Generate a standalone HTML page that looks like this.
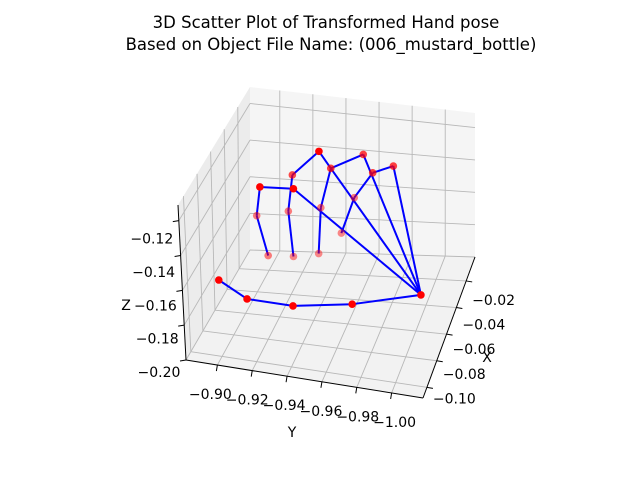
<!DOCTYPE html>
<html><head><meta charset="utf-8"><style>
html,body{margin:0;padding:0;background:#fff;}
svg{display:block;font-family:"DejaVu Sans","Liberation Sans",sans-serif;}
</style></head><body>
<svg id="chart" width="640" height="480" viewBox="0 0 640 480" xmlns="http://www.w3.org/2000/svg">
<text x="326" y="28" text-anchor="middle" font-size="16.5">3D Scatter Plot of Transformed Hand pose</text>
<text x="331" y="50" text-anchor="middle" font-size="16.5">Based on Object File Name: (006_mustard_bottle)</text>
<g id="panes"></g><g id="grid"></g><g id="axes"></g><g id="lines"></g><g id="points"></g>
<text x="487" y="362" text-anchor="middle" font-size="14">X</text>
<text x="292" y="437" text-anchor="middle" font-size="14">Y</text>
<text x="126" y="310" text-anchor="middle" font-size="14">Z</text>
</svg>
<script>
// data (X, Y, Z) per joint
const jointX = [-0.066,-0.085,-0.100,-0.106,-0.100,-0.042,-0.044,-0.055,-0.068,-0.022,-0.022,-0.038,-0.048,-0.066,-0.015,-0.042,-0.061,-0.015,-0.022,-0.031,-0.048];
const jointY = [-1.005,-0.971,-0.942,-0.918,-0.900,-0.923,-0.904,-0.906,-0.917,-0.938,-0.931,-0.921,-0.922,-0.931,-0.955,-0.939,-0.944,-0.973,-0.963,-0.955,-0.953];
const jointZ = [-0.173,-0.169,-0.164,-0.160,-0.156,-0.138,-0.138,-0.147,-0.160,-0.138,-0.129,-0.133,-0.147,-0.160,-0.133,-0.147,-0.160,-0.138,-0.138,-0.147,-0.156];
const jointShade = [1,1,1,1,1,1,1,0.5,0.5,0.75,1,0.7,0.5,0.45,0.75,0.5,0.45,0.75,0.75,0.5,0.45];
const bones = [[0,1],[1,2],[2,3],[3,4],[0,5],[5,6],[6,7],[7,8],[0,9],[9,10],[10,11],[11,12],[12,13],[9,14],[14,0],[9,15],[15,16],[0,17],[17,18],[18,19],[19,20]];
const xTicks = [-0.02,-0.04,-0.06,-0.08,-0.10];
const xTickLabels = ["−0.02","−0.04","−0.06","−0.08","−0.10"];
const yTicks = [-0.90,-0.92,-0.94,-0.96,-0.98,-1.00];
const yTickLabels = ["−0.90","−0.92","−0.94","−0.96","−0.98","−1.00"];
const zTicks = [-0.12,-0.14,-0.16,-0.18,-0.20];
const zTickLabels = ["−0.12","−0.14","−0.16","−0.18","−0.20"];

const X0=-0.108,X1=-0.002,Y0=-0.882,Y1=-1.018,Z0=-0.200,Z1=-0.111;
const C={
 b:{FL:[186,360],FR:[423,398],BL:[250,250],BR:[475,257]},
 t:{FL:[178,205],FR:[421,250],BL:[250,87],BR:[475,113]}
};
function bil(s,u,v){
  return [0,1].map(i=>s.FL[i]*(1-u)*(1-v)+s.FR[i]*u*(1-v)+s.BL[i]*(1-u)*v+s.BR[i]*u*v);
}
function proj(x,y,z){
  const u=(y-Y0)/(Y1-Y0), v=(x-X0)/(X1-X0), w=(z-Z0)/(Z1-Z0);
  const b=bil(C.b,u,v), t=bil(C.t,u,v);
  return [b[0]+(t[0]-b[0])*w, b[1]+(t[1]-b[1])*w];
}
const NS="http://www.w3.org/2000/svg";
function mk(tag,parent,attrs){const e=document.createElementNS(NS,tag);for(const k in attrs)e.setAttribute(k,attrs[k]);parent.appendChild(e);return e;}
function pts(a){return a.map(p=>p[0].toFixed(1)+","+p[1].toFixed(1)).join(" ");}

const panes=document.getElementById('panes');
let p=mk('polygon',panes,{points:pts([proj(X0,Y0,Z0),proj(X1,Y0,Z0),proj(X1,Y0,Z1),proj(X0,Y0,Z1)]),fill:'#ececec'});


p=mk('polygon',panes,{points:pts([proj(X1,Y0,Z0),proj(X1,Y1,Z0),proj(X1,Y1,Z1),proj(X1,Y0,Z1)]),fill:'#f5f5f5'});


p=mk('polygon',panes,{points:pts([proj(X0,Y0,Z0),proj(X0,Y1,Z0),proj(X1,Y1,Z0),proj(X1,Y0,Z0)]),fill:'#f2f2f2'});



const grid=document.getElementById('grid');
function gl(a,b,name){const l=mk('line',grid,{x1:a[0],y1:a[1],x2:b[0],y2:b[1],stroke:'#b8b8b8','stroke-width':0.9});

}
yTicks.forEach(y=>{gl(proj(X0,y,Z0),proj(X1,y,Z0),'floor-grid-y');gl(proj(X1,y,Z0),proj(X1,y,Z1),'back-grid-y');});
xTicks.forEach(x=>{gl(proj(x,Y0,Z0),proj(x,Y1,Z0),'floor-grid-x');gl(proj(x,Y0,Z0),proj(x,Y0,Z1),'left-grid-x');});
zTicks.forEach(z=>{gl(proj(X0,Y0,z),proj(X1,Y0,z),'left-grid-z');gl(proj(X1,Y0,z),proj(X1,Y1,z),'back-grid-z');});

const axes=document.getElementById('axes');
function al(a,b,name){const l=mk('line',axes,{x1:a[0],y1:a[1],x2:b[0],y2:b[1],stroke:'#000','stroke-width':1});

}
function tl(x,y,s,anchor,name){const t=mk('text',axes,{x:x,y:y,'font-size':14,'text-anchor':anchor});t.textContent=s;

}
al(proj(X0,Y0,Z0),proj(X0,Y0,Z1),'z-axis-line');
al(proj(X0,Y0,Z0),proj(X0,Y1,Z0),'y-axis-line');
al(proj(X0,Y1,Z0),proj(X1,Y1,Z0),'x-axis-line');
zTicks.forEach((z,i)=>{const a=proj(X0,Y0,z);al(a,[a[0]-6,a[1]+1],'z-tick');tl(a[0]-27,a[1]+23-i*1.5,zTickLabels[i],'middle','z-tick-label');});
yTicks.forEach((y,i)=>{const a=proj(X0,y,Z0);al(a,[a[0]-1,a[1]+6],'y-tick');tl(a[0]-7+i*2,a[1]+34,yTickLabels[i],'middle','y-tick-label');});
xTicks.forEach((x,i)=>{const a=proj(x,Y1,Z0);al(a,[a[0]+6,a[1]+1],'x-tick');tl(a[0]+6,a[1]+24-i*2,xTickLabels[i],'start','x-tick-label');});

const lines=document.getElementById('lines');
bones.forEach(b=>{const a=proj(jointX[b[0]],jointY[b[0]],jointZ[b[0]]),c=proj(jointX[b[1]],jointY[b[1]],jointZ[b[1]]);
const l=mk('line',lines,{x1:a[0],y1:a[1],x2:c[0],y2:c[1],stroke:'#0000ff','stroke-width':2});

});
const pg=document.getElementById('points');
jointX.forEach((x,i)=>{const a=proj(x,jointY[i],jointZ[i]);
const c=mk('circle',pg,{cx:a[0],cy:a[1],r:3.8,fill:'#ff0000','fill-opacity':jointShade[i]});

});
</script>
</body></html>
